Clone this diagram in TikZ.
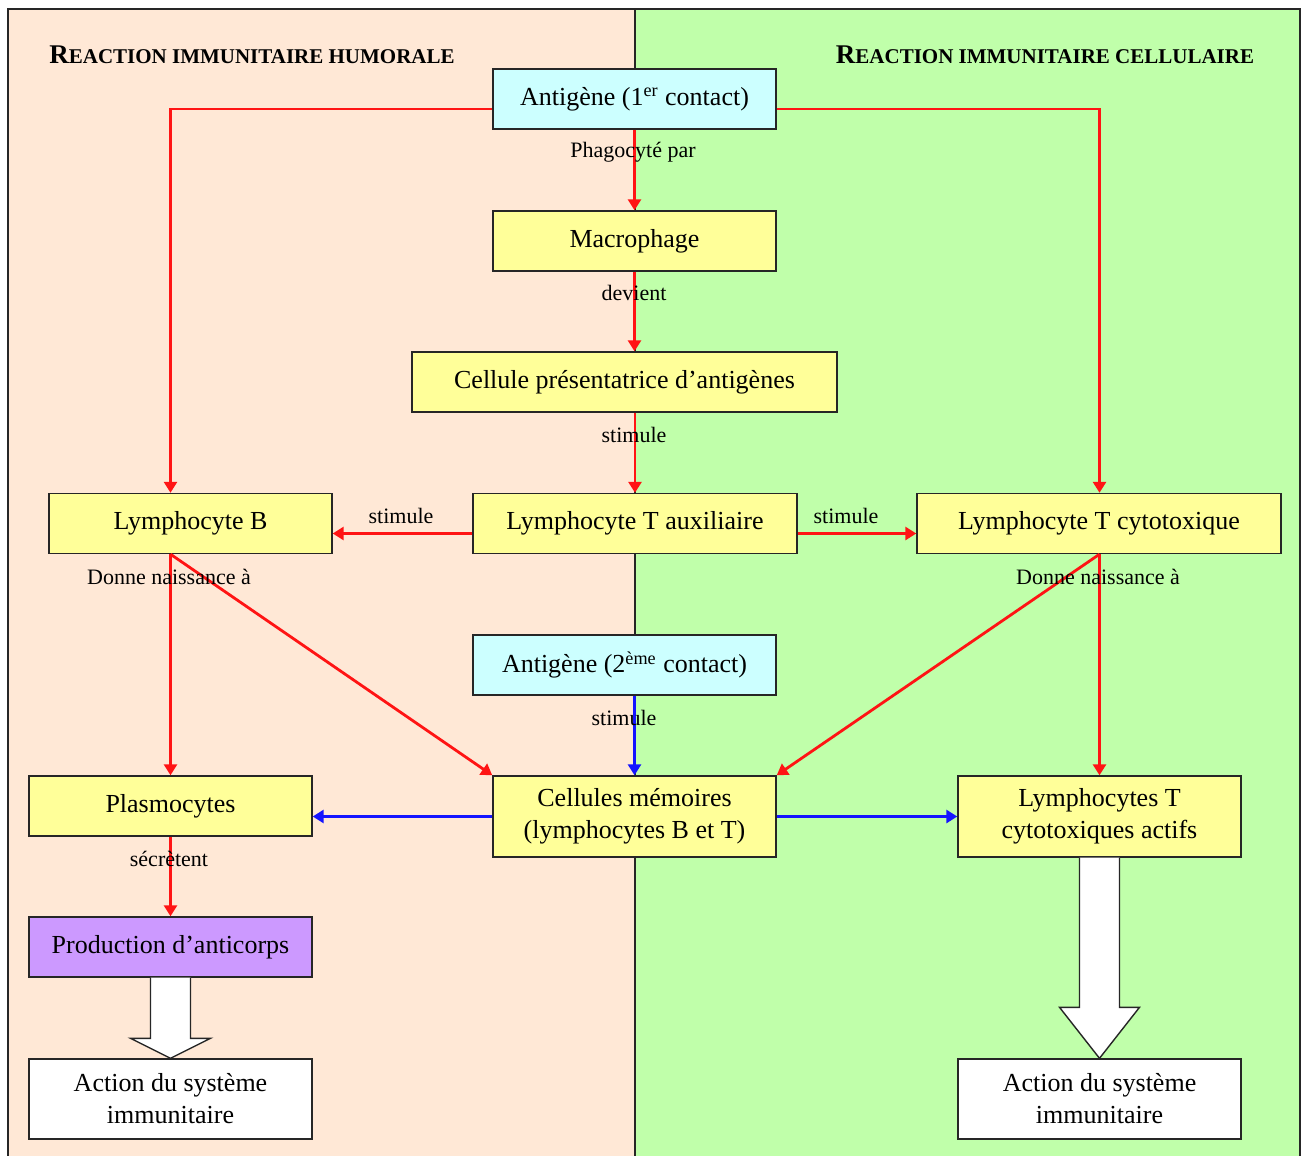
\documentclass[tikz,border=0pt]{standalone}
\usepackage{fontspec}
\setmainfont{Liberation Serif}
\usetikzlibrary{arrows.meta,calc}
\definecolor{peach}{RGB}{255,232,214}
\definecolor{lgreen}{RGB}{192,255,170}
\definecolor{lcyan}{RGB}{204,255,255}
\definecolor{lyellow}{RGB}{255,255,153}
\definecolor{lpurple}{RGB}{204,153,255}
\definecolor{myred}{RGB}{255,20,20}
\definecolor{myblue}{RGB}{20,20,255}
\newcommand\fakesc[2]{{\fontsize{13.5}{15}\selectfont #1}{\fontsize{10.5}{12}\selectfont #2}}
\begin{document}
\begin{tikzpicture}[x=0.5pt,y=-0.5pt,
  box/.style={draw=black!85,line width=0.7pt,minimum width=141.5pt,minimum height=30pt,inner sep=0pt,align=center,font=\fontsize{13}{16}\selectfont},
  yel/.style={box,fill=lyellow},
  cy/.style={box,fill=lcyan},
  lbl/.style={inner sep=0pt,font=\fontsize{11}{13}\selectfont},
  ttl/.style={inner sep=0pt,font=\bfseries},
  redarr/.style={draw=myred,line width=1.4pt,-{Triangle[length=5.5pt,width=6.5pt]}},
  bluearr/.style={draw=myblue,line width=1.4pt,-{Triangle[length=5.5pt,width=6.5pt]}},
  blk/.style={draw=black!85,fill=white,line width=0.7pt,line join=miter}]
\useasboundingbox (0,0) rectangle (1306,1156);
\clip (0,0) rectangle (1306,1156);
% background panels
\fill[peach] (8,9) rectangle (635,1200);
\fill[lgreen] (635,9) rectangle (1300,1200);
\draw[black!85,line width=0.8pt] (8,1200) -- (8,9) -- (1300,9) -- (1300,1200);
\draw[black!85,line width=0.8pt] (635,9) -- (635,1200);
% titles
\node[ttl] (T1) at (252,55) {\fakesc{R}{EACTION IMMUNITAIRE HUMORALE}};
\node[ttl] (T2) at (1045,55) {\fakesc{R}{EACTION IMMUNITAIRE CELLULAIRE}};
% nodes
\node[cy] (Ag1) at (634.5,99) {Antigène (1\textsuperscript{er} contact)};
\node[yel] (Mac) at (634.5,241) {Macrophage};
\node[yel,minimum width=212.5pt] (CPA) at (624.5,382) {Cellule présentatrice d’antigènes};
\node[yel] (LB) at (190.5,523.5) {Lymphocyte B};
\node[yel,minimum width=162pt] (LTA) at (635,523.5) {Lymphocyte T auxiliaire};
\node[yel,minimum width=182pt] (LTC) at (1099,523.5) {Lymphocyte T cytotoxique};
\node[cy,minimum width=151.5pt] (Ag2) at (624.5,665) {Antigène (2\textsuperscript{ème} contact)};
\node[yel] (Plas) at (170.5,806) {Plasmocytes};
\node[yel,minimum height=40.5pt] (CM) at (634.5,816.5) {Cellules mémoires\\(lymphocytes B et T)};
\node[yel,minimum height=40.5pt] (LTCA) at (1099.5,816.5) {Lymphocytes T\\cytotoxiques actifs};
\node[box,fill=lpurple] (Prod) at (170.5,947) {Production d’anticorps};
\node[box,fill=white,minimum height=40pt] (ActL) at (170.5,1099) {Action du système\\immunitaire};
\node[box,fill=white,minimum height=40pt] (ActR) at (1099.5,1099) {Action du système\\immunitaire};
% red connectors
\draw[redarr] ([yshift=-5pt]Ag1.west) -| (Plas.north |- LB.north);
\draw[redarr] ([yshift=-5pt]Ag1.east) -| (LTCA.north |- LTC.north);
\draw[redarr] (Ag1.south) -- (Mac.north);
\draw[redarr] (Mac.south) -- (CPA.north -| Mac.south);
\draw[redarr] (CPA.south -| LTA.north) -- (LTA.north);
\draw[redarr] ([yshift=-5pt]LTA.west) -- ([yshift=-5pt]LB.east);
\draw[redarr] ([yshift=-5pt]LTA.east) -- ([yshift=-5pt]LTC.west);
\draw[redarr] (Plas.north |- LB.south) -- (Plas.north);
\draw[redarr] (Plas.north |- LB.south) -- (CM.north west);
\draw[redarr] (LTCA.north |- LTC.south) -- (LTCA.north);
\draw[redarr] (LTCA.north |- LTC.south) -- (CM.north east);
\draw[redarr] (Plas.south) -- (Prod.north);
% blue connectors
\draw[bluearr] (Ag2.south -| CM.north) -- (CM.north);
\draw[bluearr] (CM.west) -- (Plas.east |- CM.west);
\draw[bluearr] (CM.east) -- (LTCA.west);
% block arrows
\draw[blk] ($(Prod.south)+(-20,0)$) -- ($(ActL.north)+(-20,-20)$) -- ($(ActL.north)+(-40,-20)$) -- (ActL.north) -- ($(ActL.north)+(40,-20)$) -- ($(ActL.north)+(20,-20)$) -- ($(Prod.south)+(20,0)$);
\draw[blk] ($(LTCA.south)+(-20,0)$) -- ($(ActR.north)+(-20,-51)$) -- ($(ActR.north)+(-40,-51)$) -- (ActR.north) -- ($(ActR.north)+(40,-51)$) -- ($(ActR.north)+(20,-51)$) -- ($(LTCA.south)+(20,0)$);
% labels
\node[lbl] (L1) at (633,152) {Phagocyté par};
\node[lbl] (L2) at (634,293) {devient};
\node[lbl] (L3) at (634,435) {stimule};
\node[lbl] (L4) at (401,516) {stimule};
\node[lbl] (L5) at (846,516) {stimule};
\node[lbl] (L6) at (169,577) {Donne naissance à};
\node[lbl] (L7) at (1098,577) {Donne naissance à};
\node[lbl] (L8) at (624,718) {stimule};
\node[lbl] (L9) at (169,859) {sécrètent};
\end{tikzpicture}
\end{document}
